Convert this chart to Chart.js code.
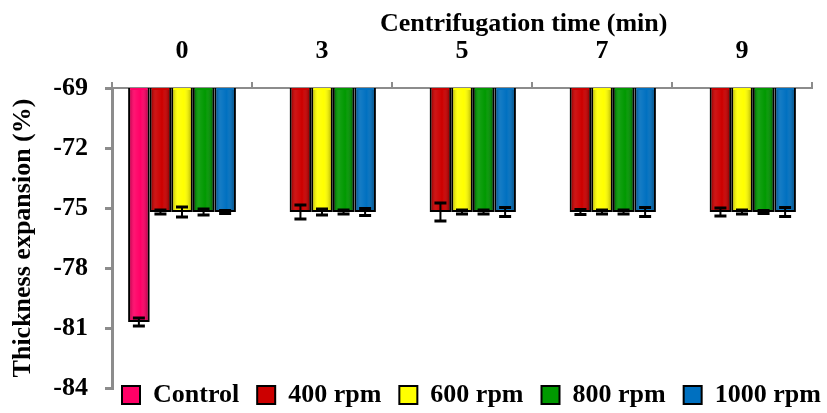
<!DOCTYPE html>
<html>
<head>
<meta charset="utf-8">
<script src="https://cdn.jsdelivr.net/npm/chart.js"></script>
<style>
  html, body { margin: 0; padding: 0; background: #fff; }
  #wrap { width: 827px; height: 413px; }
</style>
</head>
<body>
<div id="wrap"><canvas id="chart" width="827" height="413"></canvas></div>
<script>
// Thickness expansion (%) vs centrifugation time, one series per speed
const times = ['0', '3', '5', '7', '9'];
const seriesNames = ['Control', '400 rpm', '600 rpm', '800 rpm', '1000 rpm'];
const seriesColors = ['#ff0066', '#cc0000', '#ffff00', '#009900', '#0070c0'];

const control = [-80.7, null, null, null, null];
const rpm400  = [-75.2, -75.2, -75.2, -75.2, -75.2];
const rpm600  = [-75.2, -75.2, -75.2, -75.2, -75.2];
const rpm800  = [-75.2, -75.2, -75.2, -75.2, -75.2];
const rpm1000 = [-75.2, -75.2, -75.2, -75.2, -75.2];

// standard deviations (error bars)
const errControl = [0.2, 0, 0, 0, 0];
const err400  = [0.1, 0.35, 0.45, 0.12, 0.2];
const err600  = [0.25, 0.15, 0.1, 0.1, 0.1];
const err800  = [0.15, 0.1, 0.1, 0.1, 0.08];
const err1000 = [0.08, 0.18, 0.22, 0.22, 0.22];

const yTicks = [-84, -81, -78, -75, -72, -69];

const values = [control, rpm400, rpm600, rpm800, rpm1000];
const errors = [errControl, err400, err600, err800, err1000];

const FONT = 'Liberation Serif, Times New Roman, serif';
const AXIS_GREY = '#8c8c8c';

// drop shadow under bars, a bit of shading on them, then error bars
const barDecor = {
    id: 'barDecor',
    beforeDatasetsDraw(chart) {
        const ctx = chart.ctx;
        ctx.save();
        ctx.shadowColor = 'rgba(0,0,0,0.4)';
        ctx.shadowBlur = 6;
        ctx.shadowOffsetX = 2;
        ctx.shadowOffsetY = 4;
    },
    afterDatasetsDraw(chart) {
        const ctx = chart.ctx;
        ctx.restore();
        const yScale = chart.scales.y;
        const area = chart.chartArea;

        // shading: darker edges, lighter centre
        chart.data.datasets.forEach((ds, d) => {
            const meta = chart.getDatasetMeta(d);
            meta.data.forEach((el, j) => {
                if (ds.data[j] == null) return;
                const {x, y, base, width} = el.getProps(['x', 'y', 'base', 'width'], true);
                const left = x - width / 2 + 2, right = x + width / 2 - 2;
                const top = Math.max(Math.min(y, base), area.top) + 2;
                const bottom = Math.min(Math.max(y, base), area.bottom) - 2;
                const g = ctx.createLinearGradient(left, 0, right, 0);
                g.addColorStop(0, 'rgba(0,0,0,0.22)');
                g.addColorStop(0.25, 'rgba(255,255,255,0.08)');
                g.addColorStop(0.6, 'rgba(255,255,255,0)');
                g.addColorStop(1, 'rgba(0,0,0,0.25)');
                ctx.fillStyle = g;
                ctx.fillRect(left, top, right - left, bottom - top);
            });
        });

        // error bars
        ctx.save();
        ctx.strokeStyle = '#000';
        chart.data.datasets.forEach((ds, d) => {
            const meta = chart.getDatasetMeta(d);
            meta.data.forEach((el, j) => {
                const v = ds.data[j];
                const e = errors[d][j];
                if (v == null || !e) return;
                const x = el.x;
                const y1 = yScale.getPixelForValue(v + e);
                const y2 = yScale.getPixelForValue(v - e);
                ctx.lineWidth = 2;
                ctx.beginPath();
                ctx.moveTo(x, y1);
                ctx.lineTo(x, y2);
                ctx.stroke();
                ctx.lineWidth = 3;
                ctx.beginPath();
                ctx.moveTo(x - 6, y1);
                ctx.lineTo(x + 6, y1);
                ctx.moveTo(x - 6, y2);
                ctx.lineTo(x + 6, y2);
                ctx.stroke();
            });
        });
        ctx.restore();
    },
    afterLayout(chart) {
        // legend sits across the bottom of the plot, like the original
        const lg = chart.legend;
        lg.left = 104;
        lg.right = 870;
        lg.top = 364;
        lg.bottom = 413;
    }
};

Chart.defaults.font.family = FONT;
Chart.defaults.font.weight = 'bold';
Chart.defaults.font.size = 26;
Chart.defaults.color = '#000';

new Chart(document.getElementById('chart'), {
    type: 'bar',
    data: {
        labels: times,
        datasets: seriesNames.map((name, i) => ({
            label: name,
            data: values[i],
            backgroundColor: seriesColors[i],
            borderColor: '#000',
            borderWidth: 2,
            borderSkipped: false,
            categoryPercentage: 0.77,
            barPercentage: 1.0
        }))
    },
    options: {
        responsive: false,
        animation: false,
        devicePixelRatio: 1,
        layout: { padding: { left: 0, right: 15, top: 0, bottom: 0 } },
        plugins: {
            legend: {
                position: 'bottom',
                align: 'start',
                maxHeight: 25,
                labels: {
                    boxWidth: 18,
                    boxHeight: 18,
                    padding: 18,
                    color: '#000',
                    font: { family: FONT, size: 26, weight: 'bold' }
                }
            },
            tooltip: { enabled: false }
        },
        scales: {
            x: {
                position: 'top',
                grid: { offset: true, drawOnChartArea: false, tickLength: 6, color: AXIS_GREY, lineWidth: 2 },
                border: { color: AXIS_GREY, width: 2 },
                ticks: { color: '#000', padding: 15, font: { family: FONT, size: 26, weight: 'bold' } },
                title: {
                    display: true,
                    text: '\u00A0'.repeat(19) + 'Centrifugation time (min)',
                    color: '#000',
                    font: { family: FONT, size: 26, weight: 'bold' },
                    padding: { top: 9, bottom: 0 }
                },
                afterFit(scale) { scale.height = 88; }
            },
            y: {
                min: -84,
                max: -69,
                beginAtZero: false,
                afterBuildTicks(scale) { scale.ticks = yTicks.map(v => ({ value: v })); },
                grid: { drawOnChartArea: false, tickLength: 7, color: AXIS_GREY, lineWidth: 3 },
                border: { color: AXIS_GREY, width: 3 },
                ticks: { color: '#000', padding: 17, font: { family: FONT, size: 26, weight: 'bold' } },
                title: {
                    display: true,
                    text: 'Thickness expansion (%)',
                    color: '#000',
                    font: { family: FONT, size: 26, weight: 'bold' },
                    padding: { top: 8, bottom: 0 }
                },
                afterFit(scale) {
                    scale.width = 112;
                    scale.paddingTop = 0;
                    scale.paddingBottom = 0;
                }
            }
        }
    },
    plugins: [barDecor]
});
</script>
</body>
</html>
